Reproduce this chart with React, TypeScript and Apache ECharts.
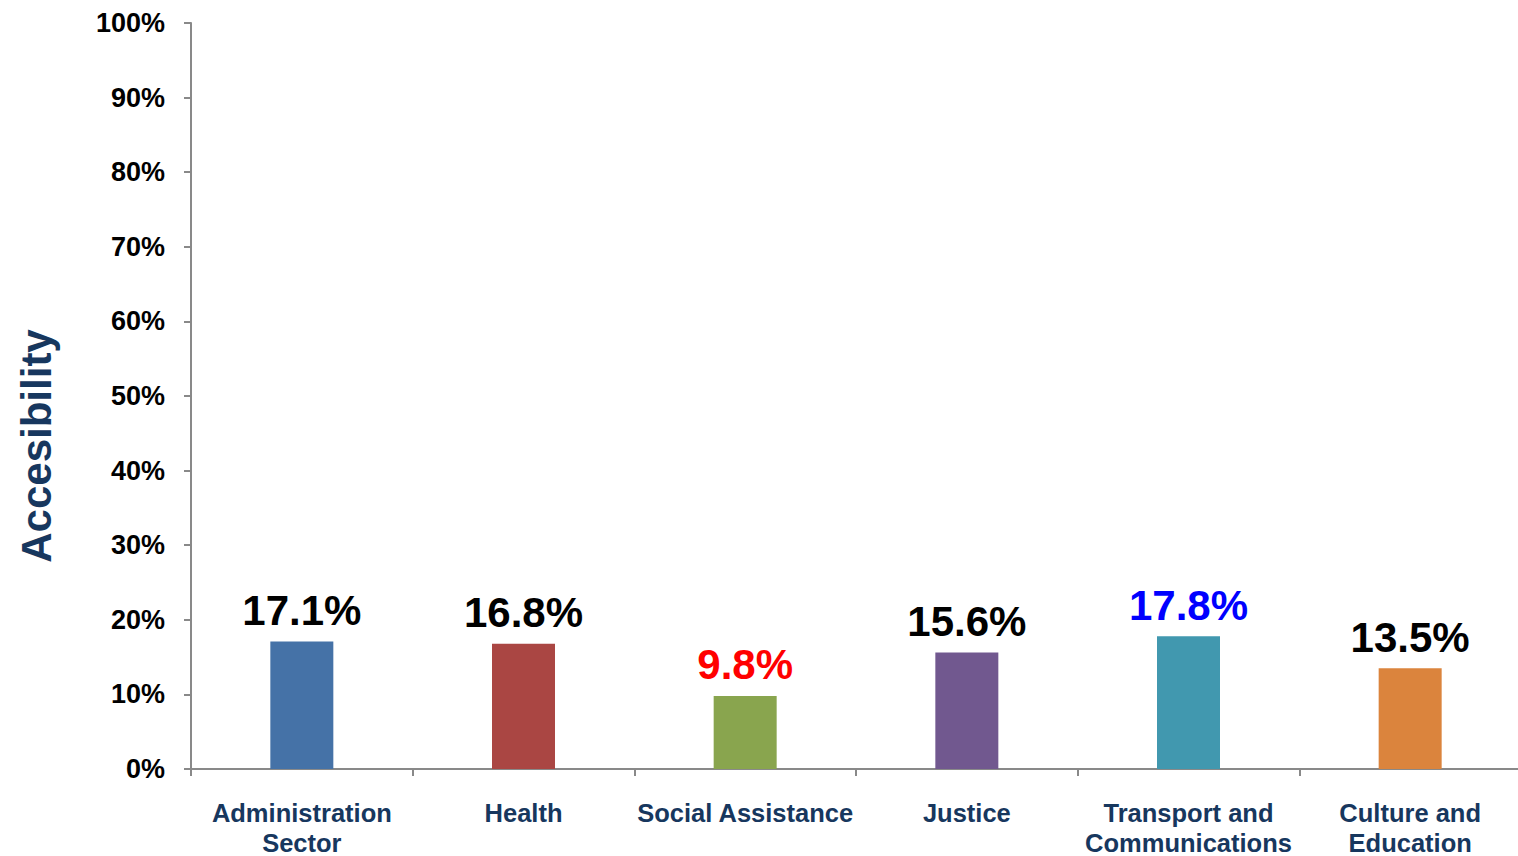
import React, { useEffect, useRef } from "react";
import * as echarts from "echarts";

const categories = [
  "Administration\nSector",
  "Health",
  "Social Assistance",
  "Justice",
  "Transport and\nCommunications",
  "Culture and\nEducation",
];
const values = [17.1, 16.8, 9.8, 15.6, 17.8, 13.5];
const barColors = ["#4572A7", "#AA4643", "#89A54E", "#71588F", "#4198AF", "#DB843D"];
const labelColors = ["#000000", "#000000", "#FF0000", "#000000", "#0000FF", "#000000"];
const yAxisTitle = "Accesibility";

export default function App() {
  const ref = useRef<HTMLDivElement>(null);
  useEffect(() => {
    if (!ref.current) return;
    const chart = echarts.init(ref.current, undefined, { renderer: "svg" });
    const font = "'Liberation Sans', Arial, sans-serif";
    chart.setOption({
      animation: false,
      backgroundColor: "#ffffff",
      grid: {
        left: 191,
        width: 1330,
        top: 23,
        height: 746,
        containLabel: false,
        outerBoundsMode: "none",
      },
      xAxis: {
        type: "category",
        data: categories,
        axisLine: { lineStyle: { color: "#898989", width: 2 } },
        axisTick: { show: true, length: 7, lineStyle: { color: "#898989", width: 2 } },
        axisLabel: {
          interval: 0,
          margin: 29,
          color: "#17375E",
          fontFamily: font,
          fontWeight: "bold",
          fontSize: 25.5,
          lineHeight: 30,
          verticalAlign: "top",
        },
      },
      yAxis: {
        type: "value",
        min: 0,
        max: 100,
        interval: 10,
        splitLine: { show: false },
        axisLine: { show: true, lineStyle: { color: "#898989", width: 2 } },
        axisTick: { show: true, length: 7, lineStyle: { color: "#898989", width: 2 } },
        axisLabel: {
          formatter: "{value}%",
          margin: 26,
          color: "#000000",
          fontFamily: font,
          fontWeight: "bold",
          fontSize: 27,
        },
      },
      graphic: [
        {
          type: "text",
          x: 36,
          y: 446,
          rotation: Math.PI / 2,
          style: {
            text: yAxisTitle,
            fill: "#17375E",
            font: `bold 42px ${font}`,
            textAlign: "center",
            textVerticalAlign: "middle",
          },
        },
      ],
      series: [
        {
          type: "bar",
          barWidth: 63,
          data: values.map((v, i) => ({
            value: v,
            itemStyle: { color: barColors[i] },
            label: { color: labelColors[i] },
          })),
          label: {
            show: true,
            position: "top",
            distance: 10,
            formatter: (p: any) => p.value.toFixed(1) + "%",
            fontFamily: font,
            fontWeight: "bold",
            fontSize: 42,
          },
        },
      ],
    });
    return () => chart.dispose();
  }, []);
  return (
    <div
      ref={ref}
      style={{ position: "fixed", left: 0, top: 0, width: 1518, height: 856 }}
    />
  );
}
